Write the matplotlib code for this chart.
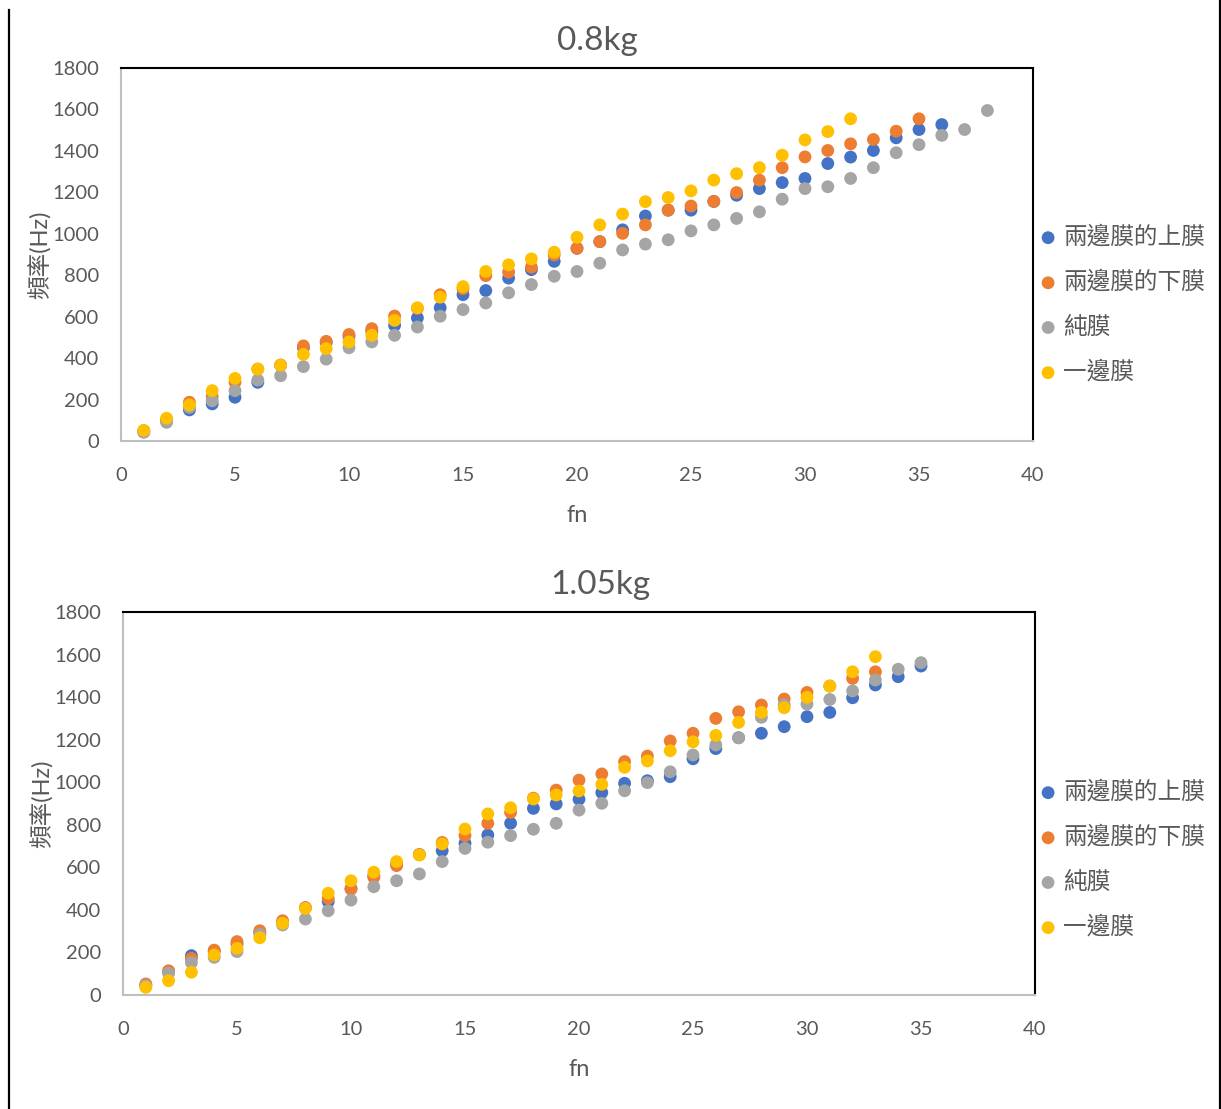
import matplotlib
matplotlib.use("Agg")
import matplotlib.pyplot as plt
from matplotlib.lines import Line2D

plt.rcParams['font.family'] = ['Lato', 'Noto Sans CJK TC', 'DejaVu Sans']

series_names = ['兩邊膜的上膜', '兩邊膜的下膜', '純膜', '一邊膜']
colors = ['#4472C4', '#ED7D31', '#A5A5A5', '#FFC000']

# ---- 0.8kg ----
top_blue = [45, 100, 150, 179, 211, 283, 366, 450, 475, 505, 530, 558, 594, 643, 706, 726, 786, 827,
            867, 930, 962, 1019, 1086, 1114, 1114, 1156, 1186, 1218, 1247, 1267, 1339, 1370, 1402,
            1463, 1503, 1527]
top_orange = [50, 100, 187, 214, 283, 347, 366, 459, 481, 514, 542, 603, 640, 706, 735, 798, 815, 839,
              898, 930, 962, 1002, 1043, 1114, 1134, 1156, 1199, 1259, 1319, 1371, 1402, 1434, 1455,
              1495, 1555]
top_gray = [42, 90, 162, 194, 243, 294, 315, 359, 395, 450, 478, 510, 550, 602, 634, 666, 715, 755,
            795, 818, 858, 922, 950, 971, 1014, 1043, 1074, 1106, 1167, 1218, 1227, 1267, 1319, 1391,
            1430, 1475, 1503, 1595]
top_yellow = [51, 110, 174, 243, 302, 347, 366, 418, 446, 478, 510, 582, 643, 694, 745, 818, 850, 879,
              911, 983, 1043, 1095, 1155, 1175, 1207, 1259, 1290, 1319, 1379, 1453, 1493, 1555]

# ---- 1.05kg ----
bot_blue = [45, 110, 185, 205, 240, 295, 340, 410, 439, 500, 560, 615, 660, 678, 713, 752, 807, 877,
            898, 920, 951, 995, 1007, 1026, 1110, 1158, 1209, 1230, 1261, 1308, 1328, 1397, 1457,
            1496, 1546]
bot_orange = [52, 114, 172, 211, 251, 302, 349, 410, 454, 498, 553, 608, 660, 717, 749, 807, 858, 925,
              963, 1010, 1039, 1097, 1123, 1194, 1230, 1300, 1331, 1363, 1391, 1422, 1452, 1488, 1519]
bot_gray = [45, 102, 152, 177, 204, 285, 329, 357, 396, 446, 509, 537, 569, 627, 689, 718, 749, 779,
            807, 869, 901, 960, 998, 1049, 1128, 1175, 1209, 1305, 1363, 1367, 1389, 1429, 1480, 1531,
            1562]
bot_yellow = [36, 67, 107, 188, 219, 269, 337, 407, 478, 537, 577, 627, 658, 710, 780, 851, 880, 921,
              940, 959, 990, 1070, 1100, 1148, 1190, 1220, 1281, 1328, 1350, 1399, 1452, 1519, 1590]

titles = ['0.8kg', '1.05kg']
x_ticks = [0, 5, 10, 15, 20, 25, 30, 35, 40]
y_ticks = [0, 200, 400, 600, 800, 1000, 1200, 1400, 1600, 1800]

W, H = 1221, 1109
fig = plt.figure(figsize=(W / 100, H / 100), dpi=100)
fig.patch.set_facecolor('white')

TXT = '#595959'


def make_axes(rect_px, data, title, title_px, legend_px):
    l, t, r, b = rect_px
    ax = fig.add_axes([l / W, 1 - b / H, (r - l) / W, (b - t) / H])
    for name, col, vals in zip(series_names, colors, data):
        n = list(range(1, len(vals) + 1))
        ax.scatter(n, vals, s=85, color=col, edgecolors='none', label=name, zorder=3, clip_on=False)
    ax.set_xlim(0, 40)
    ax.set_ylim(0, 1800)
    ax.set_xticks(x_ticks)
    ax.set_yticks(y_ticks)
    ax.tick_params(length=0, labelsize=14.5, labelcolor=TXT)
    ax.tick_params(axis='y', pad=16)
    ax.tick_params(axis='x', pad=19)
    for s in ['left', 'bottom']:
        ax.spines[s].set_color('#BFBFBF')
        ax.spines[s].set_linewidth(1.5)
    for s in ['top', 'right']:
        ax.spines[s].set_color('black')
        ax.spines[s].set_linewidth(1.5)
    hpx = b - t
    wpx = r - l
    ax.set_xlabel('fn', fontsize=17, color=TXT)
    ax.xaxis.set_label_coords(0.5, -(74 / hpx))
    ax.xaxis.label.set_va('center')
    ax.set_ylabel('頻率(Hz)', fontsize=17, color=TXT)
    ax.yaxis.set_label_coords(-(81 / wpx), 0.5)
    ax.yaxis.label.set_va('center')
    fig.text(title_px[0] / W, 1 - title_px[1] / H, title, fontsize=24, color=TXT,
             ha='center', va='center')
    leg = fig.legend(*ax.get_legend_handles_labels(), loc='center left',
                     bbox_to_anchor=(legend_px[0] / W, 1 - legend_px[1] / H),
                     bbox_transform=fig.transFigure, frameon=False, fontsize=17,
                     handlelength=0.6, handletextpad=0.35, labelspacing=0.95,
                     borderpad=0, borderaxespad=0)
    for tx in leg.get_texts():
        tx.set_color(TXT)
    return ax


make_axes((121, 68, 1033, 441), [top_blue, top_orange, top_gray, top_yellow],
          titles[0], (597, 41), (1041, 304))
make_axes((123, 612, 1035, 995), [bot_blue, bot_orange, bot_gray, bot_yellow],
          titles[1], (600, 585), (1041, 859))

# page border lines
fig.add_artist(Line2D([8.5 / W, 8.5 / W], [0, 1 - 10 / H], transform=fig.transFigure,
                      color='black', lw=1.6))
fig.add_artist(Line2D([1219.5 / W, 1219.5 / W], [0, 1], transform=fig.transFigure,
                      color='black', lw=1.6))

fig.savefig('out.png', dpi=100, facecolor='white')
